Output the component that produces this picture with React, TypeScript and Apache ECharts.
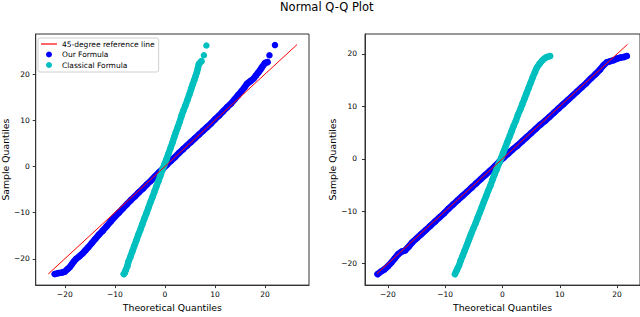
import React, { useEffect, useRef } from "react";
import * as echarts from "echarts";

// ---------- data ----------
const titleText = "Normal Q-Q Plot";
const legendNames = ["45-degree reference line", "Our Formula", "Classical Formula"];
const xAxisName = "Theoretical Quantiles";
const yAxisName = "Sample Quantiles";
const tickValues = [-20, -10, 0, 10, 20];

// left panel: [theoretical, sample]
const ourLeft: number[][] = [
  [-22.0, -23.3], [-21.3, -23.1], [-20.6, -23.0], [-20.0, -22.8], [-19.5, -22.3], [-19.0, -21.8],
  [-18.6, -21.2], [-18.2, -20.6], [-17.7, -20.0], [-17.1, -19.5], [-16.5, -18.9], [-15.9, -18.2],
  [-15.3, -17.5], [-14.6, -16.6], [-13.9, -15.7], [-13.2, -14.8], [-12.4, -13.9], [-11.6, -12.9],
  [-10.8, -11.9], [-10.0, -10.9], [-9.2, -10.0], [-8.4, -9.1], [-7.6, -8.2], [-6.8, -7.3],
  [-6.0, -6.5], [-5.2, -5.6], [-4.4, -4.8], [-3.6, -3.9], [-2.8, -3.1], [-2.0, -2.2],
  [-1.2, -1.3], [-0.4, -0.5], [0.4, 0.4], [1.2, 1.2], [2.0, 2.0], [2.8, 2.9], [3.6, 3.7],
  [4.4, 4.5], [5.2, 5.3], [6.0, 6.1], [6.8, 6.9], [7.6, 7.7], [8.4, 8.5], [9.2, 9.3],
  [10.0, 10.2], [10.8, 11.0], [11.6, 11.9], [12.4, 12.8], [13.2, 13.6], [13.9, 14.5],
  [14.6, 15.4], [15.3, 16.3], [15.9, 17.1], [16.4, 17.9], [17.1, 18.5], [17.7, 19.0],
  [18.2, 19.7], [18.7, 20.4], [19.1, 21.0], [19.4, 21.5], [20.0, 22.4], [20.5, 22.6],
  [20.9, 24.1], [22.0, 26.3],
];
const classicalLeft: number[][] = [
  [-8.2, -23.3], [-8.0, -23.0], [-7.8, -22.4], [-7.5, -21.6], [-7.3, -20.7], [-6.9, -19.6],
  [-6.5, -18.4], [-6.1, -17.2], [-5.7, -16.0], [-5.3, -14.8], [-4.9, -13.7], [-4.5, -12.5],
  [-4.1, -11.3], [-3.7, -10.2], [-3.3, -9.0], [-2.9, -7.8], [-2.5, -6.7], [-2.1, -5.5],
  [-1.7, -4.3], [-1.3, -3.2], [-0.9, -2.0], [-0.5, -0.8], [-0.1, 0.4], [0.3, 1.5],
  [0.7, 2.7], [1.1, 3.9], [1.5, 5.1], [1.85, 6.3], [2.2, 7.4], [2.6, 8.6], [3.0, 9.8],
  [3.3, 10.9], [3.7, 12.1], [4.1, 13.2], [4.5, 14.4], [4.9, 15.6], [5.25, 16.8], [5.6, 17.9],
  [5.9, 18.8], [6.15, 19.6], [6.4, 20.4], [6.6, 21.3], [6.8, 22.2], [7.3, 22.8], [7.8, 24.1],
  [8.3, 26.2],
];
const refLeft: number[][] = [[-23.3, -23.3], [26.4, 26.4]];

// right panel
const ourRight: number[][] = [
  [-21.8, -22.0], [-21.2, -21.5], [-20.6, -21.1], [-20.0, -20.5], [-19.4, -19.8], [-18.8, -19.0],
  [-18.2, -18.2], [-17.6, -17.7], [-17.0, -17.5], [-16.4, -16.8], [-15.8, -16.0], [-15.0, -15.2],
  [-14.2, -14.4], [-13.4, -13.6], [-12.6, -12.8], [-11.8, -12.0], [-11.0, -11.2], [-10.2, -10.4],
  [-9.4, -9.5], [-8.6, -8.7], [-7.8, -7.9], [-7.0, -7.1], [-6.2, -6.3], [-5.4, -5.5],
  [-4.6, -4.7], [-3.8, -3.9], [-3.0, -3.1], [-2.2, -2.3], [-1.4, -1.5], [-0.6, -0.6],
  [0.2, 0.2], [1.0, 1.0], [1.8, 1.8], [2.6, 2.5], [3.4, 3.3], [4.2, 4.1], [5.0, 4.9],
  [5.8, 5.7], [6.6, 6.5], [7.4, 7.2], [8.2, 8.0], [9.0, 8.8], [9.8, 9.6], [10.6, 10.4],
  [11.4, 11.2], [12.2, 12.0], [13.0, 12.8], [13.8, 13.6], [14.6, 14.4], [15.4, 15.3],
  [16.2, 16.1], [17.0, 17.0], [17.6, 17.8], [18.2, 18.4], [18.8, 18.6], [19.4, 18.8],
  [20.0, 19.1], [20.6, 19.3], [21.2, 19.4], [21.7, 19.6],
];
const classicalRight: number[][] = [
  [-8.3, -22.0], [-8.0, -21.3], [-7.8, -20.8], [-7.6, -20.4], [-7.3, -19.4], [-6.95, -18.5],
  [-6.6, -17.5], [-6.2, -16.4], [-5.85, -15.4], [-5.5, -14.4], [-5.1, -13.3], [-4.7, -12.3],
  [-4.35, -11.3], [-3.95, -10.2], [-3.6, -9.2], [-3.25, -8.2], [-2.85, -7.1], [-2.5, -6.1],
  [-2.1, -5.1], [-1.75, -4.0], [-1.4, -3.0], [-1.05, -2.1], [-0.75, -1.2], [-0.5, -0.6],
  [-0.25, 0.1], [0.1, 1.1], [0.5, 2.2], [0.85, 3.2], [1.25, 4.3], [1.6, 5.3], [1.95, 6.3],
  [2.35, 7.3], [2.7, 8.4], [3.1, 9.4], [3.45, 10.4], [3.85, 11.5], [4.2, 12.5], [4.55, 13.5],
  [4.95, 14.6], [5.3, 15.6], [5.65, 16.5], [6.0, 17.4], [6.45, 18.1], [6.9, 18.7], [7.3, 19.1],
  [7.7, 19.4], [8.3, 19.6],
];
const refRight: number[][] = [[-21.9, -21.9], [21.8, 21.8]];

// number of sparse (detached) points at the upper end of each sample
const detachedOurLeft = 2;
const detachedClassicalLeft = 2;

// ---------- styling ----------
const FONT = "DejaVu Sans";
const BLUE = "#0000ff";
const CYAN = "#00bfbf";
const RED = "#ff0000";
const SPINE = "#333333";
const MARK = 6.5;
const fmt = (v: number) => String(v).replace("-", "\u2212");

function makeX(gridIndex: number, min: number, max: number, labelMargin: number) {
  return {
    type: "value",
    gridIndex,
    min,
    max,
    name: xAxisName,
    nameLocation: "middle",
    nameGap: 15,
    nameTextStyle: { fontFamily: FONT, fontSize: 9.3, color: "#000" },
    axisLine: { show: true, onZero: false, lineStyle: { color: SPINE, width: 1 } },
    axisTick: { show: true, length: 3, customValues: tickValues, lineStyle: { color: SPINE } },
    axisLabel: {
      customValues: tickValues,
      formatter: fmt,
      margin: labelMargin,
      fontFamily: FONT,
      fontSize: 7.5,
      color: "#000",
    },
    splitLine: { show: false },
  };
}
function makeY(gridIndex: number, min: number, max: number, labelMargin: number, nameGap: number) {
  return {
    type: "value",
    gridIndex,
    min,
    max,
    name: yAxisName,
    nameLocation: "middle",
    nameGap,
    nameTextStyle: { fontFamily: FONT, fontSize: 9.3, color: "#000" },
    axisLine: { show: true, onZero: false, lineStyle: { color: SPINE, width: 1 } },
    axisTick: { show: true, length: 3, customValues: tickValues, lineStyle: { color: SPINE } },
    axisLabel: {
      customValues: tickValues,
      formatter: fmt,
      margin: labelMargin,
      fontFamily: FONT,
      fontSize: 7.5,
      color: "#000",
    },
    splitLine: { show: false },
  };
}

function scatter(name: string, data: number[][], color: string, idx: number, z: number) {
  return {
    type: "scatter",
    name,
    data,
    xAxisIndex: idx,
    yAxisIndex: idx,
    symbol: "circle",
    symbolSize: MARK,
    itemStyle: { color, opacity: 1 },
    z,
    silent: true,
  };
}
// dense run of markers: the overlapping markers form a solid band
function band(data: number[][], color: string, idx: number, z: number) {
  return {
    type: "line",
    name: "",
    data,
    xAxisIndex: idx,
    yAxisIndex: idx,
    symbol: "none",
    lineStyle: { color, width: MARK, cap: "round", join: "round" },
    z,
    silent: true,
  };
}
function refLine(data: number[][], idx: number) {
  return {
    type: "line",
    name: legendNames[0],
    data,
    xAxisIndex: idx,
    yAxisIndex: idx,
    symbol: "none",
    lineStyle: { color: RED, width: 1 },
    itemStyle: { color: RED },
    z: 5,
    silent: true,
  };
}

export default function App() {
  const ref = useRef<HTMLDivElement>(null);
  useEffect(() => {
    if (!ref.current) return;
    const chart = echarts.init(ref.current, undefined, { renderer: "svg" });
    chart.setOption({
      animation: false,
      backgroundColor: "#ffffff",
      title: {
        text: titleText,
        left: 280,
        top: 1,
        padding: 0,
        textStyle: { fontFamily: FONT, fontSize: 11.5, fontWeight: "normal", color: "#000" },
      },
      legend: {
        show: true,
        orient: "vertical",
        left: 38,
        top: 38,
        padding: [2, 4, 3, 3],
        itemGap: 2.5,
        itemWidth: 16,
        itemHeight: 6,
        symbolKeepAspect: true,
        borderColor: "#d0d0d0",
        borderWidth: 1,
        borderRadius: 2,
        backgroundColor: "rgba(255,255,255,0.8)",
        selectedMode: false,
        textStyle: { fontFamily: FONT, fontSize: 7.5, color: "#000" },
        data: [
          { name: legendNames[0], icon: "path://M0,0H40V3H0Z", itemStyle: { color: RED } },
          { name: legendNames[1], icon: "circle" },
          { name: legendNames[2], icon: "circle" },
        ],
      },
      grid: [
        { left: 34, top: 34, width: 275, height: 258, show: true, borderColor: SPINE, borderWidth: 1, backgroundColor: "transparent" },
        { left: 365, top: 34, width: 275, height: 258, show: true, borderColor: SPINE, borderWidth: 1, backgroundColor: "transparent" },
      ],
      xAxis: [makeX(0, -25.8, 28.8, 5), makeX(1, -24.0, 24.0, 5)],
      yAxis: [makeY(0, -25.7, 28.7, 6, 24), makeY(1, -24.1, 23.8, 8, 26)],
      series: [
        band(ourLeft.slice(0, ourLeft.length - detachedOurLeft), BLUE, 0, 2),
        scatter(legendNames[1], ourLeft, BLUE, 0, 2),
        band(classicalLeft.slice(0, classicalLeft.length - detachedClassicalLeft), CYAN, 0, 3),
        scatter(legendNames[2], classicalLeft, CYAN, 0, 3),
        refLine(refLeft, 0),
        band(ourRight, BLUE, 1, 2),
        scatter(legendNames[1], ourRight, BLUE, 1, 2),
        band(classicalRight, CYAN, 1, 3),
        scatter(legendNames[2], classicalRight, CYAN, 1, 3),
        refLine(refRight, 1),
      ],
    });
    return () => chart.dispose();
  }, []);
  return (
    <div
      ref={ref}
      style={{ position: "fixed", left: 0, top: 0, width: 640, height: 317, background: "#fff" }}
    />
  );
}
